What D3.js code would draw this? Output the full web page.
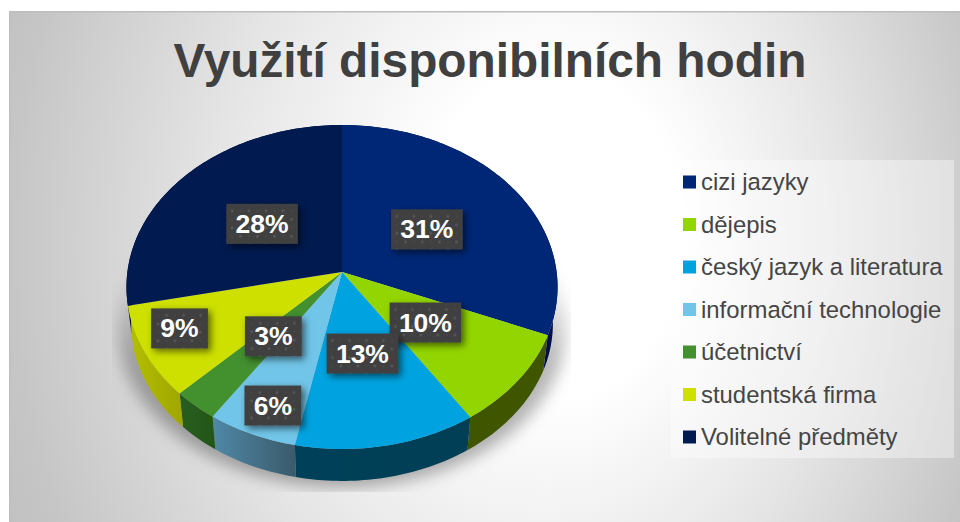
<!DOCTYPE html>
<html><head><meta charset="utf-8">
<script src="https://cdn.jsdelivr.net/npm/d3@7"></script>
<style>html,body{margin:0;padding:0;background:#fff;overflow:hidden}svg{display:block}text{font-family:"Liberation Sans",Arial,sans-serif}</style>
</head><body><svg id="c" width="960" height="522"></svg>
<script>
const chartTitle = "Využití disponibilních hodin";
const categories = ["cizi jazyky","dějepis","český jazyk a literatura","informační technologie","účetnictví","studentská firma","Volitelné předměty"];
const shares = [31.2, 9.5, 12.5, 6.2, 3.1, 9.2, 28.3];
const topColors = ["#002776","#93d500","#00a3e0","#71c5e8","#43902f","#cde000","#011a4f"];
const wallLeft = ["#000f4a","#3f5500","#004058","#4f88a6","#275f1e","#b4bf00","#000f3a"];
const wallRight = ["#000f4a","#3f5500","#003f55","#3a5a6b","#235519","#a0a600","#000f3a"];

const svg = d3.select("#c"), defs = svg.append("defs");
// background
const bg = defs.append("radialGradient").attr("id","bg").attr("gradientUnits","userSpaceOnUse")
  .attr("cx",0).attr("cy",0).attr("r",1).attr("fx",0.129).attr("fy",-0.026)
  .attr("gradientTransform","translate(490,250) scale(620,780)");
[[0,"#ffffff"],[0.21,"#ffffff"],[0.5,"#e6e6e6"],[0.8,"#c6c6c6"],[1,"#b8b8b8"]].forEach(([o,c])=>bg.append("stop").attr("offset",o).attr("stop-color",c));
svg.append("rect").attr("x",9).attr("y",11).attr("width",951).attr("height",511).attr("fill","url(#bg)");
svg.append("rect").attr("x",9).attr("y",11).attr("width",951).attr("height",1.5).attr("fill","#bdbdbd");
svg.append("rect").attr("x",9).attr("y",11).attr("width",1.5).attr("height",511).attr("fill","#bdbdbd").attr("opacity",.7);

// title
svg.append("text").attr("x",490).attr("y",77).attr("text-anchor","middle")
  .attr("font-size",47.8).attr("font-weight","700").attr("fill","#404040").text(chartTitle);

// perspective projection of the pie disc
const cx=342, k=0.0926;
const topDisc={cy:272,a:160.6,b:214.6}, lowDisc={cy:309,a:156,b:210};
const project=(disc,ang,r=1)=>{
  const u=r*Math.sin(ang), v=-r*Math.cos(ang), d=1-k*v;
  return [cx+disc.b*u/d, disc.cy+disc.a*v/d];
};
const pie=d3.pie().sort(null)(shares);
const line=d3.line();
const samples=(a0,a1)=>{const n=Math.max(2,Math.ceil((a1-a0)/0.02));return d3.range(n+1).map(i=>a0+(a1-a0)*i/n);};

// shadow under the pie
const blur=defs.append("filter").attr("id","blur").attr("x","-20%").attr("y","-20%").attr("width","140%").attr("height","140%");
blur.append("feGaussianBlur").attr("stdDeviation",8);
const sg=defs.append("linearGradient").attr("id","sg").attr("x1",0).attr("x2",0).attr("y1",0).attr("y2",1);
[[0,0],[0.36,.08],[0.6,.28],[1,.32]].forEach(([o,a])=>sg.append("stop").attr("offset",o).attr("stop-color","#000").attr("stop-opacity",a));
defs.append("clipPath").attr("id","sc").append("rect").attr("x",112).attr("y",250).attr("width",459).attr("height",242);
svg.append("g").attr("clip-path","url(#sc)").append("path")
  .attr("d",line(samples(0,2*Math.PI).map(a=>{const p=project(lowDisc,a);return [cx+(p[0]-cx)*1.06,p[1]+6];}))+"Z")
  .attr("fill","url(#sg)").attr("filter","url(#blur)");

// walls
pie.forEach((s,i)=>{
  const g=defs.append("linearGradient").attr("id","w"+i);
  g.append("stop").attr("offset",0).attr("stop-color",wallLeft[i]);
  g.append("stop").attr("offset",1).attr("stop-color",wallRight[i]);
});
const walls=svg.append("g");
walls.selectAll("path").data(pie).join("path")
  .attr("d",s=>{const as=samples(s.startAngle,s.endAngle);
    return line(as.map(a=>project(topDisc,a)).concat(as.slice().reverse().map(a=>project(lowDisc,a))))+"Z";})
  .attr("fill",(s,i)=>`url(#w${i})`);

// top faces
svg.append("g").selectAll("path").data(pie).join("path")
  .attr("d",s=>line([[cx,topDisc.cy]].concat(samples(s.startAngle,s.endAngle).map(a=>project(topDisc,a))))+"Z")
  .attr("fill",(s,i)=>topColors[i]);

// data labels
const pat=defs.append("pattern").attr("id","dots").attr("patternUnits","userSpaceOnUse").attr("width",17).attr("height",17);
pat.append("rect").attr("width",17).attr("height",17).attr("fill","#3f3f3f");
[[4,4],[12.5,12.5]].forEach(([x,y])=>pat.append("circle").attr("cx",x).attr("cy",y).attr("r",1.4).attr("fill","#585858"));
[[12.5,4],[4,12.5]].forEach(([x,y])=>pat.append("circle").attr("cx",x).attr("cy",y).attr("r",.9).attr("fill","#4c4c4c"));
const ds=defs.append("filter").attr("id","ds").attr("x","-30%").attr("y","-30%").attr("width","170%").attr("height","170%");
ds.append("feDropShadow").attr("dx",3).attr("dy",3).attr("stdDeviation",3.5).attr("flood-color","#000").attr("flood-opacity",.55);
// label placement: fraction of the radius, plus a small nudge for the crowded slices
const labelRadius=[.5,.5,.5,.79,.5,.8,.5], labelNudge=[[-2,1],[-2,-2],[-1,-1],[1,8],[2,0],[-6,-7],[1,1]];
const labels=svg.append("g").selectAll("g").data(pie).join("g").attr("transform",(s,i)=>{
  const p=project(topDisc,(s.startAngle+s.endAngle)/2,labelRadius[i]);
  return `translate(${p[0]+labelNudge[i][0]},${p[1]+labelNudge[i][1]})`;
});
labels.each(function(s){
  const g=d3.select(this), str=Math.round(s.data)+"%";
  const rect=g.append("rect").attr("fill","url(#dots)").attr("filter","url(#ds)");
  const t=g.append("text").attr("text-anchor","middle").attr("y",9).attr("font-size",26.5).attr("font-weight","700").attr("fill","#fff").text(str);
  const w=t.node().getComputedTextLength()+18.5;
  rect.attr("x",-w/2).attr("y",-20).attr("width",w).attr("height",40);
});

// legend
svg.append("rect").attr("x",671).attr("y",160).attr("width",283).attr("height",298).attr("fill","#fff").attr("opacity",.38);
const rowY=d3.scalePoint().domain(categories).range([182,437]);
const rows=svg.append("g").selectAll("g").data(categories).join("g").attr("transform",d=>`translate(0,${rowY(d)})`);
rows.append("rect").attr("x",683).attr("y",-6.5).attr("width",13).attr("height",13).attr("fill",(d,i)=>topColors[i]);
rows.append("text").attr("x",701).attr("y",8).attr("font-size",23.9).attr("fill","#454545").text(d=>d);
</script></body></html>
